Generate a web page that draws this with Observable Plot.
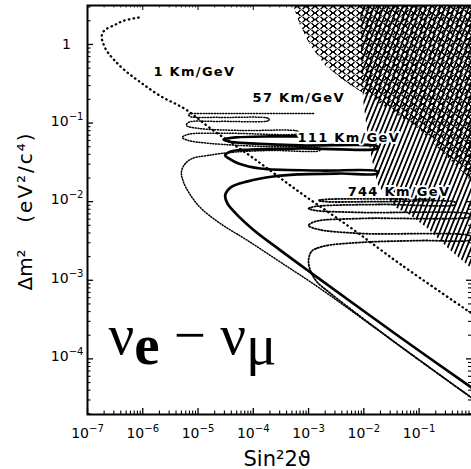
<!DOCTYPE html>
<html><head><meta charset="utf-8">
<script src="https://cdn.jsdelivr.net/npm/d3@7"></script>
<script src="https://cdn.jsdelivr.net/npm/@observablehq/plot@0.6"></script>
<style>
html,body{margin:0;padding:0;background:#fff;overflow:hidden}
.curvelabel text{letter-spacing:1.3px}
.ytitleb text{letter-spacing:2px}
</style>
</head><body><div id="chart"></div>
<script>
// ---- curve data: sin^2(2theta) and delta m^2 (eV^2/c^4) ----
const sin1 = [8.4e-7, 4.5e-7, 3.0e-7, 2.0e-7, 1.8e-7, 1.9e-7, 2.2e-7, 3.0e-7, 4.7e-7, 9.1e-7, 2.1e-6, 5.9e-6, 1.7e-5, 8.9e-5, 7.1e-4, 5.7e-3, 4.6e-2, 0.89];
const dm1  = [2.2, 2.0, 1.75, 1.5, 1.26, 1.06, 0.84, 0.64, 0.47, 0.33, 0.22, 0.15, 0.085, 0.038, 0.013, 4.7e-3, 1.6e-3, 3.8e-4];

const sin57 = [0.89, 4.6e-2, 1.6e-3, 3.1e-4, 7.9e-5, 2.5e-5, 1.1e-5, 7.0e-6, 5.5e-6, 5.0e-6, 5.7e-6, 7.9e-6, 1.5e-5, 3.9e-5, 2.0e-4, 1.6e-3, 1.6e-3, 1.35e-4, 1.7e-5, 6.7e-6, 5.2e-6, 6.7e-6, 3.9e-5, 6.6e-4, 6.6e-4, 5.9e-5, 1.1e-5, 6.2e-6, 6.7e-6, 2.5e-5, 1.9e-4, 1.9e-4, 2.5e-5, 7.3e-6, 6.7e-6, 1.7e-5, 1.23e-3];
const dm57  = [3.2e-5, 1.44e-4, 7.9e-4, 1.7e-3, 3.2e-3, 5.3e-3, 8.4e-3, 1.27e-2, 1.75e-2, 2.35e-2, 2.97e-2, 3.55e-2, 3.87e-2, 4.23e-2, 4.48e-2, 4.48e-2, 4.75e-2, 5.04e-2, 5.5e-2, 6.0e-2, 6.56e-2, 7.2e-2, 7.4e-2, 7.4e-2, 7.8e-2, 8.05e-2, 8.5e-2, 9.3e-2, 0.102, 0.105, 0.108, 0.114, 0.118, 0.121, 0.129, 0.132, 0.132];

const sin111 = [0.89, 4.6e-2, 1.08e-3, 3.1e-4, 1.0e-4, 4.8e-5, 3.4e-5, 3.1e-5, 3.9e-5, 7.9e-5, 2.3e-4, 6.3e-4, 3.8e-3, 1.77e-2, 1.77e-2, 1.6e-3, 1.35e-4, 5.4e-5, 3.6e-5, 3.1e-5, 3.9e-5, 8.9e-5, 7.1e-4, 1.77e-2, 1.77e-2, 7.1e-4, 8.9e-5, 3.6e-5, 2.9e-5, 4.8e-5, 2.0e-4, 6.3e-4];
const dm111  = [4.3e-5, 1.87e-4, 1.26e-3, 2.4e-3, 4.4e-3, 7.1e-3, 9.5e-3, 1.2e-2, 1.52e-2, 1.81e-2, 2.09e-2, 2.22e-2, 2.28e-2, 2.28e-2, 2.42e-2, 2.49e-2, 2.64e-2, 3.06e-2, 3.55e-2, 3.87e-2, 4.35e-2, 4.61e-2, 4.75e-2, 4.75e-2, 5.04e-2, 5.19e-2, 5.5e-2, 5.83e-2, 6.18e-2, 6.56e-2, 6.76e-2, 6.76e-2];

const sin744 = [0.89, 4.6e-2, 2.5e-3, 1.39e-3, 1.08e-3, 1.0e-3, 1.13e-3, 1.79e-3, 8.7e-3, 0.106, 0.89, 0.89, 8.7e-3, 1.51e-3, 1.0e-3, 1.33e-3, 8.7e-3, 0.89, 0.89, 8.7e-3, 1.33e-3, 1.0e-3, 1.33e-3, 2.0e-2, 0.455, 0.455, 2.0e-2, 2.02e-3, 1.51e-3, 2.02e-3, 0.182];
const dm744  = [3.2e-5, 1.44e-4, 6.8e-4, 9.7e-4, 1.33e-3, 1.79e-3, 2.32e-3, 2.69e-3, 3.03e-3, 3.2e-3, 3.3e-3, 3.61e-3, 3.94e-3, 4.43e-3, 4.98e-3, 5.6e-3, 6.11e-3, 6.48e-3, 6.87e-3, 7.29e-3, 7.73e-3, 8.19e-3, 8.69e-3, 9.21e-3, 9.21e-3, 9.77e-3, 1.0e-2, 1.0e-2, 1.035e-2, 1.07e-2, 1.07e-2];

// ---- excluded regions (left boundary of hatched areas) ----
const crossDm  = [3.2, 1.75, 0.97, 0.54, 0.33, 0.21, 0.132, 8.05e-2, 3.87e-2, 1.86e-2];
const crossSin = [5.3e-4, 7.1e-4, 1.08e-3, 2.02e-3, 4.7e-3, 1.32e-2, 3.7e-2, 0.106, 0.30, 0.89];
const lineDm   = [3.2, 0.84, 0.194, 8.05e-2, 3.34e-2, 1.61e-2, 8.4e-3, 6.67e-3, 4.56e-3, 2.4e-3, 1.41e-3];
const lineSin  = [8.7e-3, 9.1e-3, 9.9e-3, 1.16e-2, 1.43e-2, 1.84e-2, 3.7e-2, 7.0e-2, 0.142, 0.37, 0.89];
const hatchRight = 1;

// ---- labels ----
const curveLabels = ["1 Km/GeV", "57 Km/GeV", "111 Km/GeV", "744 Km/GeV"];
const curveLabelSin = [1.56e-6, 9.7e-5, 6.3e-4, 5.1e-3];
const curveLabelDm  = [0.453, 0.21, 6.4e-2, 1.35e-2];

const xMajor = [1e-7, 1e-6, 1e-5, 1e-4, 1e-3, 1e-2, 1e-1];
const xTickLabels = ["10^{−7}", "10^{−6}", "10^{−5}", "10^{−4}", "10^{−3}", "10^{−2}", "10^{−1}"];
const yMajor = [1, 1e-1, 1e-2, 1e-3, 1e-4];
const yTickLabels = ["1", "10^{−1}", "10^{−2}", "10^{−3}", "10^{−4}"];
const xTitle = "Sin²2ϑ";
const yTitleA = "Δm²";
const yTitleB = "(eV²/c⁴)";
const reaction = "ν_{e} − ν_{μ}";

// ---- layout ----
const W = 471, H = 469;
const mL = 87, mR = -1, mT = 5, mB = 55;
const plotW = W - mL - mR, plotH = H - mT - mB;
const xDomain = [1e-7, 0.925];
const yDomain = [1.96e-5, 3.13];

const minors = (lo, hi) => {
  const out = [];
  for (let e = Math.floor(Math.log10(lo)); e <= Math.ceil(Math.log10(hi)); e++)
    for (let m = 2; m <= 9; m++) { const v = m * Math.pow(10, e); if (v > lo && v < hi) out.push(v); }
  return out;
};
const xMinor = minors(xDomain[0], xDomain[1]);
const yMinor = minors(yDomain[0], yDomain[1]);

const pts = (xs, ys) => xs.map((x, i) => ({x, y: ys[i]}));
const hatchPts = (xs, ys) => xs.map((x, i) => ({x1: x, x2: hatchRight, y: ys[i]}));

const svg = Plot.plot({
  width: W, height: H,
  marginLeft: mL, marginRight: mR, marginTop: mT, marginBottom: mB,
  x: {type: "log", domain: xDomain, axis: null},
  y: {type: "log", domain: yDomain, axis: null},
  style: {fontFamily: "DejaVu Sans, sans-serif", background: "white", color: "black"},
  marks: [
    Plot.areaX(hatchPts(lineSin, lineDm), {y: "y", x1: "x1", x2: "x2", fill: "url(#shatch)", clip: true}),
    Plot.areaX(hatchPts(crossSin, crossDm), {y: "y", x1: "x1", x2: "x2", fill: "url(#xhatch)", clip: true}),
    Plot.line(pts(sin1, dm1), {x: "x", y: "y", curve: "catmull-rom", stroke: "black", strokeWidth: 2.3, strokeDasharray: "0.5,4.2", strokeLinecap: "round", clip: true}),
    Plot.line(pts(sin57, dm57), {x: "x", y: "y", curve: "catmull-rom", stroke: "black", strokeWidth: 1.5, strokeDasharray: "1.1,1.7", clip: true}),
    Plot.line(pts(sin744, dm744), {x: "x", y: "y", curve: "catmull-rom", stroke: "black", strokeWidth: 1.8, strokeDasharray: "1.3,1.9", clip: true}),
    Plot.line(pts(sin111, dm111), {x: "x", y: "y", curve: "catmull-rom", stroke: "black", strokeWidth: 2.7, clip: true}),
    Plot.text(curveLabels, {x: (d, i) => curveLabelSin[i], y: (d, i) => curveLabelDm[i], text: d => d, textAnchor: "start", lineAnchor: "middle",
      fontSize: 13, fontWeight: "bold", stroke: "white", strokeWidth: 4, paintOrder: "stroke", fill: "black", className: "curvelabel"}),
    Plot.text([reaction], {x: () => 2.4e-7, y: () => 1.17e-4, text: d => d, textAnchor: "start", lineAnchor: "bottom",
      fontSize: 57, fontFamily: "Liberation Serif, serif", className: "reaction"}),
    // frame and ticks
    Plot.frame({stroke: "black", strokeWidth: 2}),
    Plot.tickX(xMajor, {x: d => d, insetTop: plotH - 6, strokeWidth: 1.3}),
    Plot.tickX(xMinor, {x: d => d, insetTop: plotH - 3.5, strokeWidth: 1.1}),
    Plot.tickX(xMajor, {x: d => d, insetBottom: plotH - 5, strokeWidth: 1}),
    Plot.tickX(xMinor, {x: d => d, insetBottom: plotH - 2.5, strokeWidth: 0.8}),
    Plot.tickY(yMajor, {y: d => d, insetRight: plotW - 6, strokeWidth: 1.3}),
    Plot.tickY(yMinor, {y: d => d, insetRight: plotW - 3.5, strokeWidth: 1.1}),
    Plot.tickY(yMajor, {y: d => d, insetLeft: plotW - 6, strokeWidth: 1.3}),
    Plot.tickY(yMinor, {y: d => d, insetLeft: plotW - 4, strokeWidth: 1.1}),
    // tick labels
    Plot.text(xMajor, {x: d => d, frameAnchor: "bottom", dy: 23, lineAnchor: "bottom", text: (d, i) => xTickLabels[i], fontSize: 14}),
    Plot.text(yMajor.slice(1), {y: d => d, frameAnchor: "left", dx: -4, dy: -2, textAnchor: "end", lineAnchor: "middle", text: (d, i) => yTickLabels[i + 1], fontSize: 14}),
    Plot.text(yMajor.slice(0, 1), {y: d => d, frameAnchor: "left", dx: -21, textAnchor: "middle", lineAnchor: "middle", text: () => yTickLabels[0], fontSize: 14}),
    // axis titles
    Plot.text([xTitle], {x: () => 2.7e-4, frameAnchor: "bottom", dy: 51, lineAnchor: "bottom", text: d => d, fontSize: 21}),
    Plot.text([yTitleA], {y: () => 7.4e-4, frameAnchor: "left", dx: -62, rotate: -90, textAnchor: "start", lineAnchor: "middle", text: d => d, fontSize: 20}),
    Plot.text([yTitleB], {y: () => 5.4e-3, frameAnchor: "left", dx: -62, rotate: -90, textAnchor: "start", lineAnchor: "middle", text: d => d, fontSize: 20, className: "ytitleb"})
  ]
});

document.getElementById("chart").appendChild(svg);

// hatch patterns
const defs = d3.select(svg).insert("defs", ":first-child");
const px = defs.append("pattern").attr("id", "xhatch").attr("patternUnits", "userSpaceOnUse").attr("width", 9).attr("height", 6.5);
px.append("path").attr("d", "M0,0L9,6.5M0,6.5L9,0").attr("stroke", "black").attr("stroke-width", 1.15).attr("fill", "none").attr("shape-rendering", "crispEdges");
const ps = defs.append("pattern").attr("id", "shatch").attr("patternUnits", "userSpaceOnUse").attr("width", 4.4).attr("height", 12).attr("patternTransform", "rotate(22)");
ps.append("line").attr("x1", 2).attr("y1", -1).attr("x2", 2).attr("y2", 13).attr("stroke", "black").attr("stroke-width", 1.7).attr("shape-rendering", "crispEdges");

// superscripts / subscripts as tspans
svg.querySelectorAll("text").forEach(el => {
  const s = el.textContent;
  if (!/[\^_]\{/.test(s)) return;
  const fs = parseFloat(getComputedStyle(el).fontSize) || 12;
  const isReaction = el.closest(".reaction") !== null;
  const parts = s.split(/([\^_]\{[^}]*\})/).filter(p => p);
  el.textContent = "";
  let shift = 0;
  for (const p of parts) {
    const t = document.createElementNS("http://www.w3.org/2000/svg", "tspan");
    let target;
    if (p.startsWith("^{")) {
      t.textContent = p.slice(2, -1);
      t.setAttribute("font-size", fs * 0.72);
      target = -fs * 0.42;
    } else if (p.startsWith("_{")) {
      t.textContent = p.slice(2, -1);
      target = fs * 0.19;
      if (isReaction && t.textContent === "e") t.setAttribute("font-weight", "bold");
    } else {
      t.textContent = p;
      target = 0;
    }
    if (target !== shift) { t.setAttribute("dy", target - shift); shift = target; }
    el.appendChild(t);
  }
});
</script>
</body></html>
